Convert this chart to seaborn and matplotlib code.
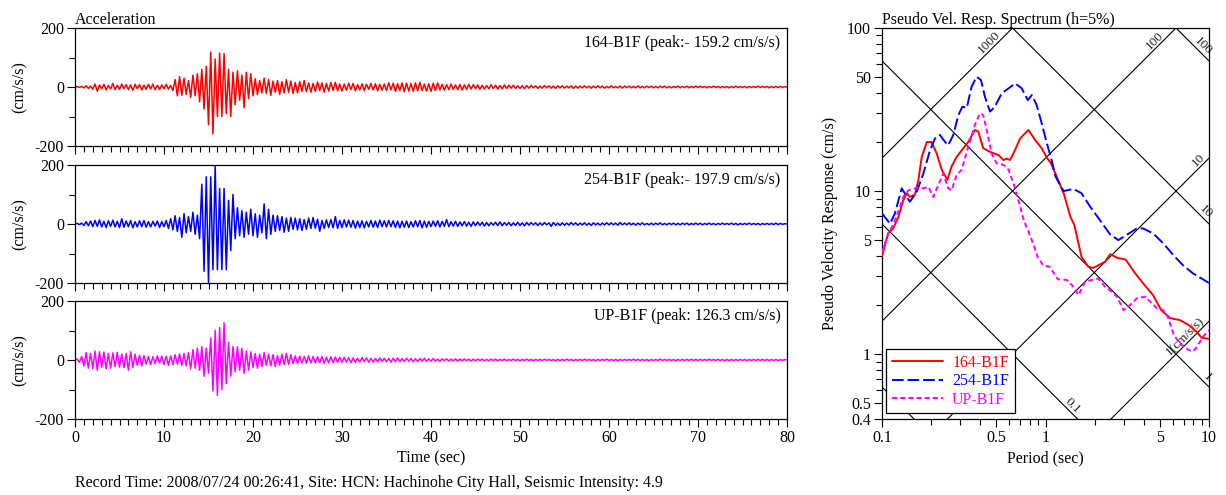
import numpy as np
import matplotlib
matplotlib.use("Agg")
import matplotlib.pyplot as plt
from matplotlib.ticker import FixedLocator, FixedFormatter, NullFormatter
import seaborn as sns

# acceleration records, sampled every 0.25 s from 0 to 80 s (cm/s/s)
acc_164 = [
    0, 1, -1, 2, -3, 4, -5, 3, -8, 10, -14, 7, -6, 9, -10, 5, -7, 12, -9, 6,
    -8, 10, -6, 8, -9, 7, -11, 9, -6, 8, -10, 6, -8, 9, -7, 10, -9, 6, -8, 7,
    -6, 9, -7, 5, -12, 25, -30, 35, -28, 30, -25, 22, -35, 40, -30, 45, -50, 60, -75, 70,
    -128, 118, -159, 95, -100, 115, -100, 113, -90, 60, -100, 50, -60, 55, -45, 40, -70, 50, -40, 45,
    -30, 28, -25, 22, -20, 30, -22, 25, -28, 20, -18, 22, -25, 18, -20, 25, -18, 20, -22, 15,
    -20, 18, -15, 22, -16, 14, -18, 12, -15, 17, -12, 14, -18, 12, -14, 15, -12, 16, -13, 10,
    -14, 10, -11, 13, -9, 12, -13, 8, -10, 11, -12, 9, -8, 12, -10, 11, -13, 9, -11, 10,
    -12, 14, -10, 13, -15, 11, -12, 14, -16, 13, -14, 12, -15, 14, -13, 16, -12, 10, -14, 11,
    -15, 13, -12, 14, -10, 9, -11, 8, -9, 10, -8, 7, -9, 8, -10, 7, -8, 9, -7, 8,
    -6, 7, -8, 6, -7, 5, -6, 8, -5, 6, -7, 5, -6, 7, -5, 6, -4, 6, -5, 4,
    -5, 4, -6, 5, -4, 5, -3, 4, -5, 3, -4, 5, -3, 4, -4, 3, -5, 4, -3, 4,
    -4, 3, -3, 4, -5, 3, -4, 3, -3, 4, -3, 3, -4, 3, -3, 4, -3, 3, -4, 2,
    -3, 4, -3, 2, -3, 3, -4, 3, -2, 3, -3, 2, -3, 4, -3, 2, -3, 3, -2, 3,
    -3, 2, -3, 3, -2, 3, -3, 2, -3, 2, -2, 3, -3, 2, -2, 3, -3, 2, -2, 3,
    -2, 3, -2, 2, -3, 2, -2, 3, -2, 2, -3, 2, -2, 2, -3, 2, -2, 3, -2, 2,
    -2, 2, -3, 2, -2, 2, -2, 3, -2, 2, -2, 2, -3, 2, -2, 2, -2, 2, -1, 1,
    0,
]
acc_254 = [
    0, 2, -2, 3, -5, 8, -6, 10, -9, 12, -8, 14, -10, 9, -12, 11, -8, 13, -10, 9,
    -12, 18, -11, 10, -9, 12, -13, 8, -10, 11, -9, 12, -11, 8, -10, 9, -7, 10, -12, 8,
    -9, 12, -15, 18, -20, 28, -25, 22, -45, 35, -30, 25, -25, 40, -35, 30, -50, 135, -160, 160,
    -198, 160, -155, 196, -155, 120, -155, 120, -155, 80, -90, 100, -50, 55, -40, 45, -45, 40, -35, 50,
    -40, 35, -45, 30, -30, 68, -50, 50, -35, 30, -25, 28, -22, 25, -28, 20, -25, 22, -18, 20,
    -20, 18, -22, 15, -18, 20, -15, 22, -14, 16, -25, 12, -15, 14, -12, 15, -13, 25, -15, 12,
    -12, 14, -10, 13, -11, 12, -14, 10, -12, 11, -13, 9, -10, 12, -11, 10, -12, 13, -9, 11,
    -10, 12, -9, 11, -12, 10, -13, 9, -11, 10, -12, 8, -10, 11, -9, 12, -13, 10, -11, 9,
    -9, 10, -8, 11, -10, 9, -8, 15, -9, 8, -7, 9, -8, 7, -6, 8, -7, 6, -8, 7,
    -6, 7, -5, 6, -7, 5, -6, 5, -4, 6, -5, 7, -6, 5, -4, 5, -6, 4, -5, 6,
    -5, 4, -6, 5, -4, 5, -3, 4, -5, 4, -4, 5, -3, 4, -8, 5, -4, 3, -5, 4,
    -4, 3, -4, 5, -3, 4, -4, 3, -3, 4, -4, 3, -5, 4, -3, 3, -4, 3, -3, 4,
    -3, 4, -3, 3, -4, 5, -3, 3, -3, 4, -3, 3, -4, 3, -3, 4, -3, 2, -3, 3,
    -3, 3, -2, 4, -3, 2, -3, 3, -2, 3, -3, 2, -3, 3, -2, 3, -3, 2, -2, 3,
    -2, 3, -3, 2, -2, 3, -2, 2, -3, 2, -2, 3, -2, 2, -2, 3, -2, 2, -3, 2,
    -2, 2, -2, 3, -2, 2, -2, 2, -3, 2, -2, 2, -2, 2, -2, 3, -2, 2, -1, 1,
    0,
]
acc_up = [
    0, 3, -8, 12, -20, 25, -28, 22, -30, 30, -35, 28, -25, 27, -30, 22, -28, 24, -22, 26,
    -24, 20, -26, 22, -35, 28, -25, 20, -18, 16, -20, 15, -14, 12, -16, 11, -12, 14, -10, 13,
    -15, 12, -18, 14, -16, 18, -14, 20, -18, 22, -20, 25, -30, 35, -28, 40, -35, 45, -55, 40,
    -45, 75, -105, 100, -120, 110, -100, 126, -80, 60, -55, 45, -40, 45, -35, 40, -45, 30, -35, 28,
    -25, 22, -28, 20, -22, 25, -18, 20, -20, 18, -22, 15, -18, 20, -15, 22, -15, 18, -12, 14,
    -12, 13, -10, 12, -11, 14, -10, 12, -10, 11, -9, 12, -12, 9, -10, 11, -9, 10, -8, 9,
    -8, 9, -7, 8, -9, 7, -8, 6, -7, 8, -6, 7, -8, 6, -7, 5, -6, 7, -5, 6,
    -6, 5, -7, 6, -5, 7, -6, 5, -5, 6, -4, 5, -6, 4, -5, 5, -4, 6, -5, 4,
    -4, 5, -4, 3, -5, 4, -3, 4, -4, 3, -3, 4, -4, 3, -3, 4, -3, 3, -4, 3,
    -3, 3, -2, 3, -3, 2, -3, 3, -2, 3, -3, 2, -2, 3, -3, 2, -2, 3, -2, 2,
    -3, 2, -2, 3, -2, 2, -3, 2, -2, 2, -2, 3, -2, 2, -2, 2, -3, 2, -2, 2,
    -2, 3, -2, 2, -3, 2, -2, 2, -2, 3, -2, 2, -2, 2, -3, 2, -2, 2, -2, 3,
    -2, 2, -2, 2, -3, 2, -2, 2, -2, 2, -2, 3, -2, 2, -2, 2, -2, 2, -3, 2,
    -2, 2, -2, 3, -2, 2, -2, 2, -2, 2, -3, 2, -2, 2, -2, 2, -2, 3, -2, 2,
    -2, 2, -2, 2, -2, 3, -2, 2, -2, 2, -2, 2, -3, 2, -2, 2, -2, 2, -2, 2,
    -2, 2, -3, 2, -2, 2, -2, 2, -2, 2, -2, 2, -2, 2, -2, 2, -2, 1, -1, 1,
    0,
]

# pseudo velocity response spectra (h=5%): period (s), Sv (cm/s)
per_164 = [0.1, 0.109, 0.117, 0.126, 0.135, 0.142, 0.148, 0.159, 0.167, 0.175, 0.188, 0.201,
           0.216, 0.232, 0.251, 0.266, 0.286, 0.314, 0.337, 0.37, 0.388, 0.416, 0.458, 0.516,
           0.553, 0.58, 0.607, 0.652, 0.699, 0.786, 0.863, 0.948, 1.02, 1.08, 1.15, 1.3,
           1.42, 1.5, 1.66, 1.83, 1.96, 2.1, 2.31, 2.49, 2.74, 3.09, 3.48, 3.95, 4.55, 5.1,
           5.8, 6.6, 7.5, 8.4, 9.0, 10.0]
sv_164 = [4.0, 5.5, 5.9, 6.95, 8.8, 9.7, 9.2, 9.5, 11.7, 16.2, 20.0, 20.0,
          17.0, 13.5, 11.7, 14.1, 16.2, 18.3, 20.0, 23.7, 23.2, 18.3, 17.4, 16.6,
          15.5, 15.8, 15.5, 17.9, 21.0, 23.7, 20.6, 18.3, 16.0, 14.8, 12.8, 9.5,
          6.95, 6.2, 3.95, 3.43, 3.38, 3.5, 3.68, 4.1, 3.9, 3.8, 3.2, 2.72, 2.3, 1.86,
          1.66, 1.62, 1.51, 1.37, 1.26, 1.24]

per_254 = [0.1, 0.112, 0.12, 0.132, 0.142, 0.148, 0.163, 0.179, 0.197, 0.211, 0.226, 0.243,
           0.254, 0.273, 0.293, 0.31, 0.33, 0.353, 0.379, 0.403, 0.426, 0.458, 0.49, 0.54,
           0.595, 0.652, 0.715, 0.779, 0.825, 0.883, 0.948, 1.02, 1.09, 1.15, 1.29, 1.48,
           1.66, 1.88, 2.16, 2.49, 2.79, 3.15, 3.62, 3.95, 4.55, 5.25, 6.05, 6.95, 8.0, 9.0,
           10.0]
sv_254 = [7.3, 6.3, 7.3, 10.4, 9.2, 8.6, 9.9, 12.8, 17.9, 21.0, 22.1, 20.0,
          19.1, 22.1, 29.2, 32.9, 32.4, 43.6, 50.2, 48.0, 37.9, 30.7, 32.9, 39.8,
          42.7, 45.7, 42.7, 36.1, 38.8, 33.7, 26.0, 19.6, 15.5, 12.3, 10.0, 10.3,
          9.7, 8.0, 6.6, 5.4, 5.0, 5.4, 5.9, 5.9, 5.5, 4.78, 4.05, 3.5, 3.12, 2.91,
          2.73]

per_up = [0.1, 0.11, 0.117, 0.126, 0.135, 0.145, 0.159, 0.179, 0.192, 0.206, 0.221, 0.237,
          0.254, 0.266, 0.286, 0.307, 0.33, 0.353, 0.37, 0.397, 0.416, 0.437, 0.468, 0.502,
          0.553, 0.595, 0.637, 0.683, 0.74, 0.79, 0.85, 0.9, 0.97, 1.06, 1.19, 1.35,
          1.48, 1.59, 1.75, 1.92, 2.1, 2.31, 2.54, 2.74, 3.0, 3.3, 3.62, 4.08, 4.38, 4.8,
          5.25, 5.6, 6.05, 6.6, 7.5, 8.0, 8.4, 9.2, 10.0]
sv_up = [4.2, 5.6, 6.2, 7.5, 9.2, 10.1, 10.4, 10.4, 10.6, 9.2, 10.9, 12.8,
         10.4, 10.1, 12.5, 13.5, 17.4, 21.5, 25.4, 30.0, 29.2, 23.7, 17.0, 14.8,
         14.5, 13.5, 11.1, 8.8, 6.5, 5.6, 4.6, 3.9, 3.5, 3.43, 2.88, 2.85,
         2.59, 2.3, 2.78, 2.85, 2.91, 2.59, 2.41, 2.25, 1.86, 2.0, 2.2, 2.25, 2.09, 1.91,
         1.86, 1.69, 1.34, 1.16, 1.06, 1.04, 1.1, 1.28, 1.40]

names = ["164-B1F", "254-B1F", "UP-B1F"]
peaks = ["164-B1F (peak:- 159.2 cm/s/s)", "254-B1F (peak:- 197.9 cm/s/s)",
         "UP-B1F (peak: 126.3 cm/s/s)"]
colors = ["#ff0000", "#0000ff", "#ff00ff"]
acc_gal = [1000, 100, 10, 1]        # constant pseudo acceleration lines (cm/s/s)
disp_cm = [100, 10, 1, 0.1, 0.01]   # constant displacement lines (cm)

sns.set_theme(style="ticks")
plt.rcParams["font.family"] = ["Liberation Serif", "DejaVu Serif"]
plt.rcParams["font.size"] = 11.5
plt.rcParams["axes.unicode_minus"] = False
plt.rcParams["axes.edgecolor"] = "black"
plt.rcParams["xtick.color"] = "black"
plt.rcParams["ytick.color"] = "black"
plt.rcParams["text.color"] = "black"
plt.rcParams["axes.labelcolor"] = "black"

fig = plt.figure(figsize=(12.26, 4.95), dpi=100)

# ---- acceleration panels
tops = [28, 165, 301]
axes_acc = []
for i, (rec, col, pk) in enumerate(zip([acc_164, acc_254, acc_up], colors, peaks)):
    top = tops[i]
    ax = fig.add_axes([75 / 1226, 1 - (top + 118) / 495, 712 / 1226, 118 / 495])
    t = np.linspace(0, 80, len(rec))
    sns.lineplot(x=t, y=rec, ax=ax, color=col, lw=1.1, estimator=None, sort=False)
    ax.set_xlim(0, 80)
    ax.set_ylim(-200, 200)
    ax.set_yticks([-200, 0, 200])
    ax.yaxis.set_minor_locator(FixedLocator([-100, 100]))
    ax.set_xticks(range(0, 81, 10))
    ax.xaxis.set_minor_locator(FixedLocator(range(0, 81)))
    ax.tick_params(which="major", direction="out", length=6, width=0.8, labelsize=11.5, pad=2)
    ax.tick_params(which="minor", direction="out", length=4, width=0.8)
    for s in ax.spines.values():
        s.set_linewidth(0.9)
    ax.set_ylabel("(cm/s/s)", fontsize=11.5)
    ax.yaxis.set_label_coords(-0.066, 0.5)
    ax.text(0.991, 0.87, pk, transform=ax.transAxes, ha="right", va="center", fontsize=11.5)
    if i < 2:
        ax.set_xticklabels([])
    else:
        ax.set_xlabel("Time (sec)", fontsize=11.5)
        ax.xaxis.set_label_coords(0.5, -0.27)
    axes_acc.append(ax)
axes_acc[0].set_title("Acceleration", loc="left", fontsize=11.5, pad=1)

# ---- response spectrum
ax = fig.add_axes([882 / 1226, 1 - 419 / 495, 327 / 1226, 391 / 495])
ax.set_xscale("log")
ax.set_yscale("log")
tg = np.logspace(-1, 1, 60)
for a in acc_gal:
    ax.plot(tg, a * tg / (2 * np.pi), color="black", lw=0.8, zorder=1)
    te = min(10.0, 100 * 2 * np.pi / a)
    se = a * te / (2 * np.pi)
    d = 0.06 if te < 10 else 0.012
    lab = "1(cm/s/s)" if a == 1 else str(a)
    ax.text(te / 10 ** d, se / 10 ** d, lab, rotation=45, rotation_mode="anchor",
            ha="right", va="bottom", fontsize=9.5, color="#222222", zorder=2)
for dd in disp_cm:
    ax.plot(tg, 2 * np.pi * dd / tg, color="black", lw=0.8, zorder=1)
    te = min(10.0, 2 * np.pi * dd / 0.4)
    se = 2 * np.pi * dd / te
    lab = ("%g" % dd)
    ax.text(te / 10 ** 0.02, se * 10 ** 0.02, lab, rotation=-45, rotation_mode="anchor",
            ha="right", va="bottom", fontsize=9.5, color="#222222", zorder=2)

styles = ["-", (0, (6, 2)), (0, (2.6, 1.6))]
for per, sv, col, ls, nm in zip([per_164, per_254, per_up], [sv_164, sv_254, sv_up],
                                colors, styles, names):
    sns.lineplot(x=per, y=sv, ax=ax, color=col, lw=1.4, linestyle=ls,
                 estimator=None, sort=False, label=nm, zorder=3)

ax.set_xlim(0.1, 10)
ax.set_ylim(0.4, 100)
ax.xaxis.set_major_locator(FixedLocator([0.1, 0.5, 1, 5, 10]))
ax.xaxis.set_major_formatter(FixedFormatter(["0.1", "0.5", "1", "5", "10"]))
ax.xaxis.set_minor_locator(FixedLocator([0.2, 0.3, 0.4, 0.6, 0.7, 0.8, 0.9,
                                         2, 3, 4, 6, 7, 8, 9]))
ax.xaxis.set_minor_formatter(NullFormatter())
ax.yaxis.set_major_locator(FixedLocator([0.4, 0.5, 1, 5, 10, 50, 100]))
ax.yaxis.set_major_formatter(FixedFormatter(["0.4", "0.5", "1", "5", "10", "50", "100"]))
ax.yaxis.set_minor_locator(FixedLocator([0.6, 0.7, 0.8, 0.9, 2, 3, 4, 6, 7, 8, 9,
                                         20, 30, 40, 60, 70, 80, 90]))
ax.yaxis.set_minor_formatter(NullFormatter())
ax.tick_params(which="major", direction="out", length=6, width=0.8, labelsize=11.5, pad=2)
ax.tick_params(which="minor", direction="out", length=4, width=0.8)
for s in ax.spines.values():
    s.set_linewidth(0.9)
ax.set_xlabel("Period (sec)", fontsize=11.5)
ax.xaxis.set_label_coords(0.5, -0.08)
ax.set_ylabel("Pseudo Velocity Response (cm/s)", fontsize=11.5)
ax.yaxis.set_label_coords(-0.135, 0.5)
ax.set_title("Pseudo Vel. Resp. Spectrum (h=5%)", loc="left", fontsize=11.5, pad=1)

leg = ax.legend(loc="lower left", bbox_to_anchor=(0.012, 0.015), fontsize=11.5,
                frameon=True, fancybox=False, framealpha=1, edgecolor="black",
                handlelength=3.2, borderpad=0.35, labelspacing=0.15, handletextpad=0.6,
                borderaxespad=0, labelcolor="linecolor")
leg.get_frame().set_linewidth(0.9)
leg.set_zorder(5)

fig.text(75 / 1226, 1 - 483 / 495,
         "Record Time: 2008/07/24 00:26:41, Site: HCN: Hachinohe City Hall, Seismic Intensity: 4.9",
         ha="left", va="center", fontsize=11.5)

fig.savefig("out.png", dpi=100)
